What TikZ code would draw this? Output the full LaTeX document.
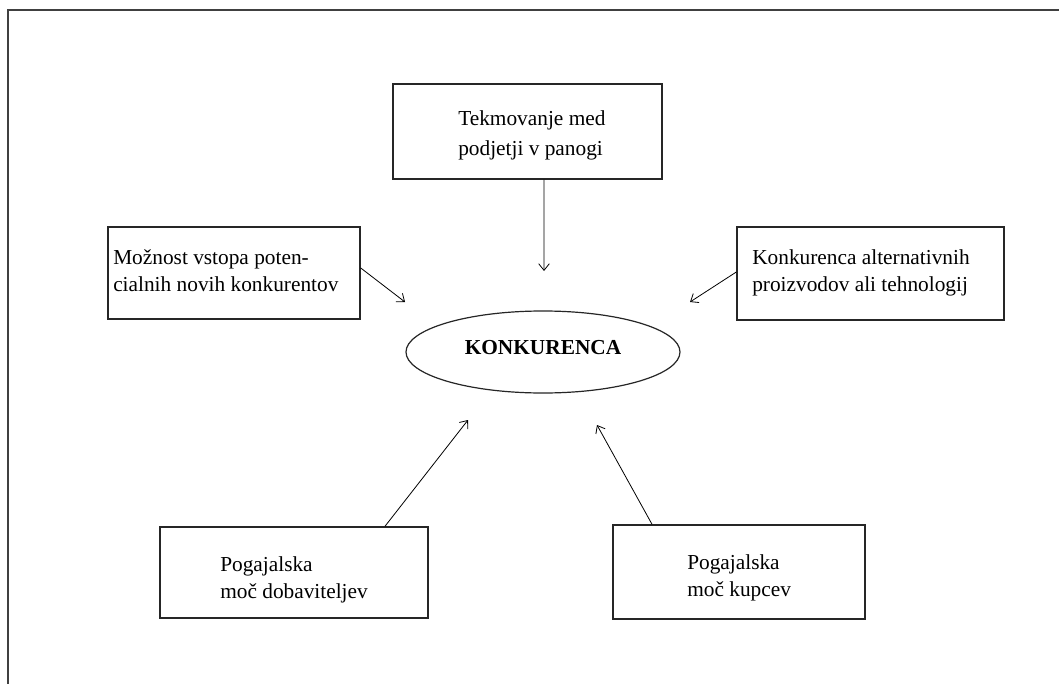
\documentclass[tikz,border=0pt]{standalone}
\usepackage{fontspec}
\setmainfont{Liberation Serif}
\usetikzlibrary{shapes.geometric,arrows.meta}
\begin{document}
\begin{tikzpicture}[x=0.75pt,y=-0.75pt,
  box/.style={draw=black!85,line width=1.1pt,inner sep=0pt,rectangle},
  lbl/.style={anchor=base west,align=left,inner sep=0pt,font=\fontsize{16}{20}\selectfont},
  arr/.style={-{Straight Barb[length=5pt,width=8pt]},line width=0.6pt}]
\useasboundingbox (0,0) rectangle (1059,684);
\fill[white] (0,0) rectangle (1059,684);
\draw[line width=1.5pt,black!75] (8,684) -- (8,10) -- (1059,10);
% boxes
\node[box,minimum width=201.75pt,minimum height=71.25pt] (top) at (527.5,131.5) {};
\node[box,minimum width=189pt,minimum height=69pt] (left) at (234,273) {};
\node[box,minimum width=200.25pt,minimum height=69.75pt] (right) at (870.5,273.5) {};
\node[box,minimum width=201pt,minimum height=68.25pt] (bl) at (294,572.5) {};
\node[box,minimum width=189pt,minimum height=70.5pt] (br) at (739,572) {};
\node[draw=black!85,line width=0.9pt,ellipse,inner sep=0pt,minimum width=205.5pt,minimum height=61.5pt] (core) at (543,352) {};
% texts (anchored at the baseline of the last line)
\node[lbl,font=\fontsize{16}{22.5}\selectfont] (ttop) at (458,156) {Tekmovanje med\\podjetji v panogi};
\node[lbl] (tleft) at (113,291) {Možnost vstopa poten-\\cialnih novih konkurentov};
\node[lbl] (tright) at (752,291) {Konkurenca alternativnih\\proizvodov ali tehnologij};
\node[lbl] (tbl) at (220,598) {Pogajalska\\moč dobaviteljev};
\node[lbl] (tbr) at (687,596) {Pogajalska\\moč kupcev};
\node[inner sep=0pt,font=\fontsize{16}{20}\selectfont\bfseries] (tcore) at (543,348) {KONKURENCA};
% arrow tips
\coordinate (p1) at (544,271);
\coordinate (p2) at (405,302);
\coordinate (p3) at (690,302);
\coordinate (p4) at (468,420);
\coordinate (p5) at (597,425);
\draw[arr] ([xshift=12.4pt]top.south) -- (p1);
\draw[arr] ([yshift=3.75pt]left.east) -- (p2);
\draw[arr] ([yshift=1.1pt]right.west) -- (p3);
\draw[arr] ([xshift=68.25pt]bl.north) -- (p4);
\draw[arr] ([xshift=-65.25pt]br.north) -- (p5);
\end{tikzpicture}
\end{document}
